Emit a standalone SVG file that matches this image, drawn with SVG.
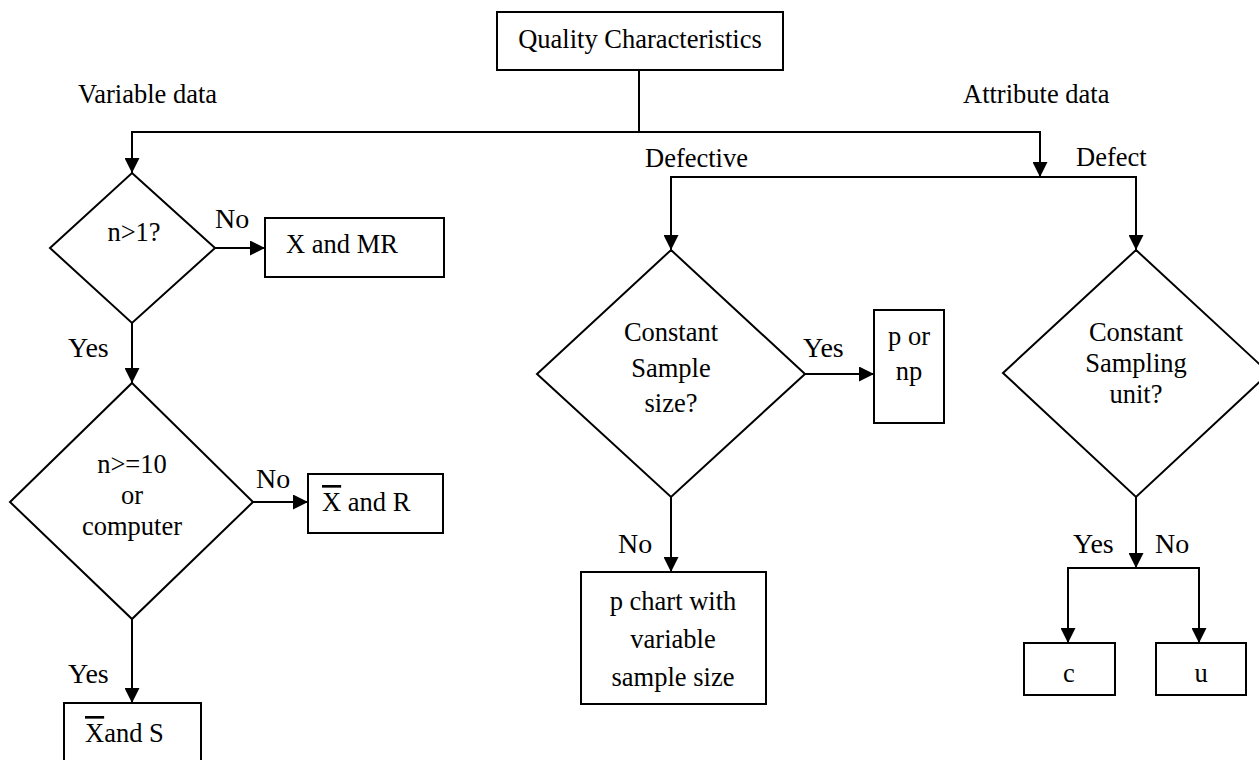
<svg xmlns="http://www.w3.org/2000/svg" width="1259" height="760" viewBox="0 0 1259 760" font-family="'Liberation Serif', 'DejaVu Serif', serif">
<style>
  text { font-family: 'Liberation Serif', 'DejaVu Serif', serif; font-size: 26.5px; fill: #000; }
  .yn { font-size: 28px; }
  .mid { text-anchor: middle; }
  .shape { fill: #fff; stroke: #000; stroke-width: 2; }
  .conn { fill: none; stroke: #000; stroke-width: 2; }
  .arr { marker-end: url(#ah); }
  .ov { text-decoration: overline; }
</style>
<defs>
  <marker id="ah" markerUnits="userSpaceOnUse" markerWidth="15" markerHeight="15" refX="15" refY="7.5" orient="auto">
    <path d="M0,0 L15,7.5 L0,15 Z" fill="#000"/>
  </marker>
</defs>
<rect width="1259" height="760" fill="#fff"/>

<g id="connectors">
  <path class="conn" d="M639,70 V132"/>
  <path class="conn arr" d="M639,132 H132 V173"/>
  <path class="conn arr" d="M639,132 H1040 V177"/>
  <path class="conn arr" d="M1040,177 H671 V250"/>
  <path class="conn arr" d="M1040,177 H1136 V250"/>
  <path class="conn arr" d="M215,248 H265"/>
  <path class="conn arr" d="M132,323 V383"/>
  <path class="conn arr" d="M253,502 H308"/>
  <path class="conn arr" d="M132,619 V703"/>
  <path class="conn arr" d="M805,374 H874"/>
  <path class="conn arr" d="M671,497 V572"/>
  <path class="conn arr" d="M1136,497 V568"/>
  <path class="conn arr" d="M1136,568 H1068 V643"/>
  <path class="conn arr" d="M1136,568 H1199 V643"/>
</g>

<g id="labels">
  <text x="78" y="103">Variable data</text>
  <text x="963" y="103">Attribute data</text>
  <text x="645" y="167">Defective</text>
  <text x="1076" y="166">Defect</text>
  <text class="yn" x="215" y="228">No</text>
  <text class="yn" x="68" y="357">Yes</text>
  <text class="yn" x="256" y="488">No</text>
  <text class="yn" x="68" y="683">Yes</text>
  <text class="yn" x="803" y="357">Yes</text>
  <text class="yn" x="618" y="553">No</text>
  <text class="yn" x="1073" y="553">Yes</text>
  <text class="yn" x="1155" y="553">No</text>
</g>

<g id="quality">
  <rect class="shape" x="497" y="12" width="286" height="58"/>
  <text class="mid" x="640" y="48">Quality Characteristics</text>
</g>

<g id="n_gt_1">
  <polygon class="shape" points="132,173 215,248 132,323 50,248"/>
  <text class="mid" x="134" y="241">n&gt;1?</text>
</g>

<g id="x_mr">
  <rect class="shape" x="265" y="218" width="179" height="59"/>
  <text x="286" y="253">X and MR</text>
</g>

<g id="n_ge_10">
  <polygon class="shape" points="132,383 253,502 132,619 10,502"/>
  <text class="mid" x="132" y="473">n&gt;=10</text>
  <text class="mid" x="132" y="504">or</text>
  <text class="mid" x="132" y="535">computer</text>
</g>

<g id="xbar_r">
  <rect class="shape" x="308" y="474" width="135" height="59"/>
  <text x="322" y="511"><tspan class="ov">X</tspan> and R</text>
</g>

<g id="xbar_s">
  <rect class="shape" x="64" y="703" width="137" height="70"/>
  <text x="85" y="742"><tspan class="ov">X</tspan>and S</text>
</g>

<g id="const_sample">
  <polygon class="shape" points="671,250 805,374 671,497 537,374"/>
  <text class="mid" x="671" y="341">Constant</text>
  <text class="mid" x="671" y="377">Sample</text>
  <text class="mid" x="671" y="412">size?</text>
</g>

<g id="p_np">
  <rect class="shape" x="874" y="310" width="70" height="113"/>
  <text class="mid" x="909" y="345">p or</text>
  <text class="mid" x="909" y="380">np</text>
</g>

<g id="p_chart">
  <rect class="shape" x="581" y="572" width="185" height="132"/>
  <text class="mid" x="673" y="610">p chart with</text>
  <text class="mid" x="673" y="648">variable</text>
  <text class="mid" x="673" y="686">sample size</text>
</g>

<g id="const_unit">
  <polygon class="shape" points="1136,250 1269,373 1136,497 1003,373"/>
  <text class="mid" x="1136" y="341">Constant</text>
  <text class="mid" x="1136" y="372">Sampling</text>
  <text class="mid" x="1136" y="403">unit?</text>
</g>

<g id="c_box">
  <rect class="shape" x="1024" y="643" width="91" height="52"/>
  <text class="mid" x="1069" y="682">c</text>
</g>

<g id="u_box">
  <rect class="shape" x="1156" y="643" width="90" height="52"/>
  <text class="mid" x="1201" y="682">u</text>
</g>
</svg>
